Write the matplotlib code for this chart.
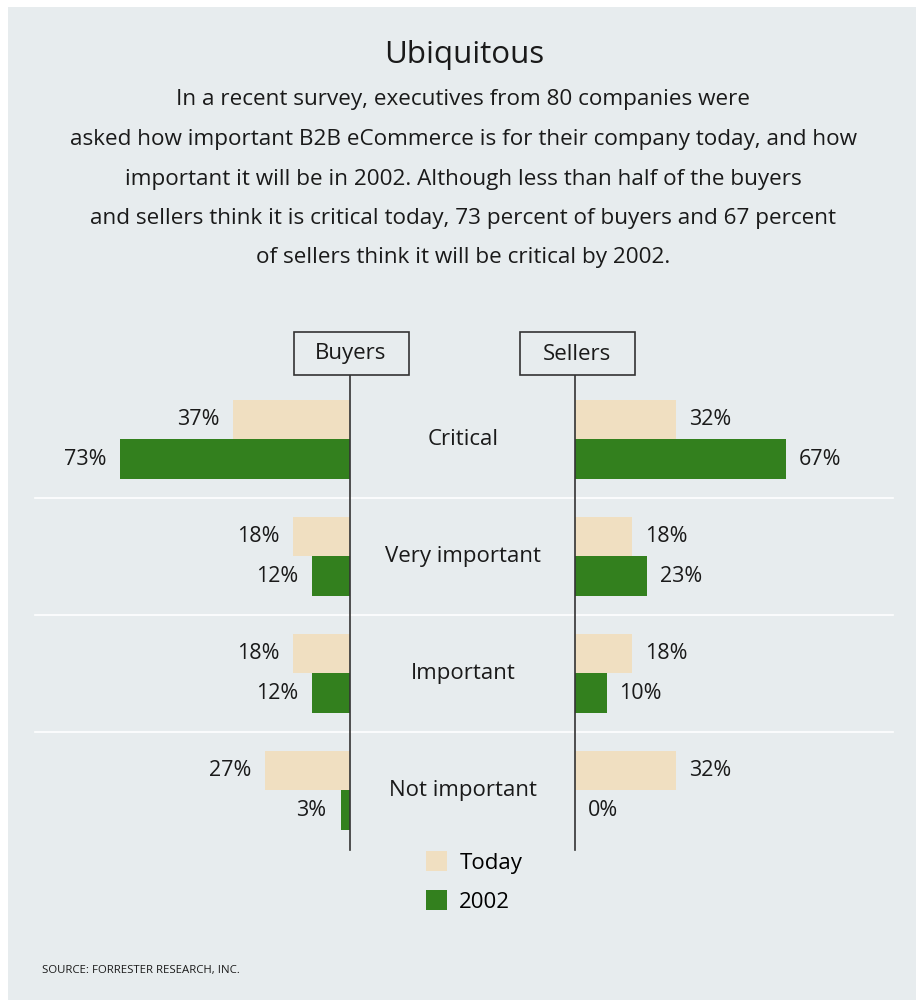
import matplotlib.pyplot as plt
from matplotlib.patches import Rectangle
from matplotlib.lines import Line2D
from matplotlib.transforms import blended_transform_factory

plt.rcParams['font.family'] = ['Open Sans', 'DejaVu Sans']

# data
categories = ['Critical', 'Very important', 'Important', 'Not important']
buyers_today = [37, 18, 18, 27]
buyers_2002 = [73, 12, 12, 3]
sellers_today = [32, 18, 18, 32]
sellers_2002 = [67, 23, 10, 0]
series_names = ['Today', '2002']

c_today = '#f0dfc1'
c_2002 = '#33801e'
bg = '#e7ecee'
ink = '#1a1a1a'

W, H = 919, 1000


def fx(x):
    return x / W


def fy(y):
    return 1 - y / H


fig = plt.figure(figsize=(W / 100, H / 100), dpi=100)
fig.patch.set_facecolor('white')
fig.add_artist(Rectangle((fx(8), 0), fx(908), fy(7), transform=fig.transFigure,
                         facecolor=bg, edgecolor='none', zorder=-10))

# title and intro text
fig.text(fx(464), fy(55), 'Ubiquitous', ha='center', va='center', fontsize=22.5, color=ink)
intro = ['In a recent survey, executives from 80 companies were',
         'asked how important B2B eCommerce is for their company today, and how',
         'important it will be in 2002. Although less than half of the buyers',
         'and sellers think it is critical today, 73 percent of buyers and 67 percent',
         'of sellers think it will be critical by 2002.']
for i, line in enumerate(intro):
    fig.text(fx(463), fy(100 + 39.5 * i), line, ha='center', va='center', fontsize=16.2, color=ink)

# two bar panels, 0 at the inner side
y0, y1 = 375, 850
axL = fig.add_axes([fx(35), fy(y1), fx(315), (y1 - y0) / H])
axR = fig.add_axes([fx(575), fy(y1), fx(315), (y1 - y0) / H])

pos = list(range(len(categories)))
h = 0.34
for ax, today, y2002, side in [(axL, buyers_today, buyers_2002, 'L'),
                               (axR, sellers_today, sellers_2002, 'R')]:
    ax.set_facecolor('none')
    b1 = ax.barh([p - h / 2 for p in pos], today, height=h, color=c_today, label=series_names[0])
    b2 = ax.barh([p + h / 2 for p in pos], y2002, height=h, color=c_2002, label=series_names[1])
    ax.set_ylim(3.51, -0.55)
    if side == 'L':
        ax.set_xlim(100, 0)
    else:
        ax.set_xlim(0, 100)
    ax.set_xticks([])
    ax.set_yticks([])
    for s in ax.spines.values():
        s.set_visible(False)
    sp = ax.spines['right'] if side == 'L' else ax.spines['left']
    sp.set_visible(True)
    sp.set_color('#333333')
    sp.set_linewidth(1.2)
    for bars, vals in [(b1, today), (b2, y2002)]:
        for rect, v in zip(bars, vals):
            yc = rect.get_y() + rect.get_height() / 2
            if side == 'L':
                ax.annotate(f'{v}%', (v, yc), xytext=(-14, 0), textcoords='offset pixels',
                            ha='right', va='center', fontsize=15.5, color=ink)
            else:
                ax.annotate(f'{v}%', (v, yc), xytext=(13, 0), textcoords='offset pixels',
                            ha='left', va='center', fontsize=15.5, color=ink)

# category labels and separators between groups
tr = blended_transform_factory(fig.transFigure, axL.transData)
for p, cat in zip(pos, categories):
    fig.text(fx(463), p, cat, transform=tr, ha='center', va='center', fontsize=16, color=ink)
for p in pos[:-1]:
    fig.add_artist(Line2D([fx(35), fx(893)], [p + 0.5, p + 0.5], transform=tr,
                          color='white', linewidth=1.2, zorder=0))

# header boxes
for cx, name in [(351, 'Buyers'), (577, 'Sellers')]:
    fig.add_artist(Rectangle((fx(cx - 57), fy(375)), fx(115), 43 / H, transform=fig.transFigure,
                             facecolor=bg, edgecolor='#333333', linewidth=1.2))
    fig.text(fx(cx), fy(354), name, ha='center', va='center', fontsize=16, color=ink)

# legend
leg = fig.legend(handles=[b1, b2], loc='upper left', bbox_to_anchor=(fx(406), fy(831)),
                 frameon=False, fontsize=16, handlelength=0.95, handleheight=1.0,
                 handletextpad=0.55, labelspacing=0.75)

fig.text(fx(42), fy(970), 'SOURCE: FORRESTER RESEARCH, INC.', ha='left', va='center',
         fontsize=8.2, color=ink)

plt.savefig('out.png', dpi=100, facecolor=fig.get_facecolor())
